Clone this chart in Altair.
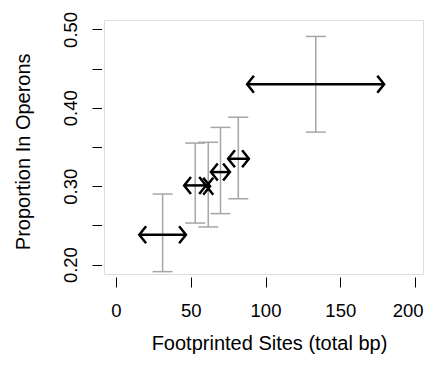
import altair as alt
import pandas as pd

# Data
x_mid = [31.2, 53.0, 61.7, 69.9, 81.8, 133.6]
x_lo = [15.6, 45.6, 60.5, 63.5, 75.0, 87.7]
x_hi = [46.8, 60.2, 62.9, 76.2, 88.9, 179.3]
y_mid = [0.238, 0.301, 0.300, 0.318, 0.335, 0.430]
y_lo = [0.191, 0.253, 0.248, 0.265, 0.284, 0.369]
y_hi = [0.290, 0.355, 0.356, 0.375, 0.388, 0.491]

x_ticks = [0, 50, 100, 150, 200]
y_ticks = [0.20, 0.25, 0.30, 0.35, 0.40, 0.45, 0.50]

df = pd.DataFrame({"xm": x_mid, "xl": x_lo, "xh": x_hi,
                   "ym": y_mid, "yl": y_lo, "yh": y_hi})

FONT = "Liberation Sans"
LFS = 18.5
TFS = 20

xscale = alt.Scale(domain=[-8, 205.3], nice=False, zero=False)
yscale = alt.Scale(domain=[0.188, 0.512], nice=False, zero=False)

xaxis = alt.Axis(values=x_ticks, title="Footprinted Sites (total bp)", grid=False,
                 domain=False, tickSize=10, tickColor="black", tickWidth=1, offset=3,
                 labelFont=FONT, labelFontSize=LFS, labelColor="black",
                 labelFlush=10, labelFlushOffset=8,
                 labelBaseline="top", labelPadding=14.5, labelOverlap=False,
                 titleFont=FONT, titleFontSize=TFS, titleFontWeight="normal", titleColor="black",
                 titleBaseline="alphabetic", titleAlign="center", titleX=165, titleY=72)
yaxis = alt.Axis(values=y_ticks, title="Proportion In Operons", grid=False,
                 domain=False, tickSize=9.5, tickColor="black", tickWidth=1, offset=2.5,
                 labelFont=FONT, labelFontSize=LFS, labelColor="black", labelFlush=False,
                 labelAngle=-90, labelAlign="center", labelBaseline="alphabetic",
                 labelPadding=15.3, labelOverlap=False,
                 labelExpr="(round(datum.value*100) % 10 == 0) ? format(datum.value, '.2f') : ''",
                 titleFont=FONT, titleFontSize=TFS, titleFontWeight="normal", titleColor="black",
                 titleAngle=-90, titleBaseline="alphabetic", titleAlign="center",
                 titleX=-72.5, titleY=131.3)

GRAY = "#a6a6a6"

base = alt.Chart(df)

err = base.mark_rule(color=GRAY, strokeWidth=1.5).encode(
    x=alt.X("xm:Q", scale=xscale, axis=xaxis),
    y=alt.Y("yl:Q", scale=yscale, axis=yaxis),
    y2="yh:Q")

cap_path = "M-1,0L1,0"
cap_lo = base.mark_point(shape=cap_path, size=400, filled=False, color=GRAY,
                         strokeWidth=1.5, opacity=1).encode(
    x=alt.X("xm:Q", scale=xscale), y=alt.Y("yl:Q", scale=yscale))
cap_hi = base.mark_point(shape=cap_path, size=400, filled=False, color=GRAY,
                         strokeWidth=1.5, opacity=1).encode(
    x=alt.X("xm:Q", scale=xscale), y=alt.Y("yh:Q", scale=yscale))

shaft = base.mark_rule(color="black", strokeWidth=2.5).encode(
    x=alt.X("xl:Q", scale=xscale), x2="xh:Q", y=alt.Y("ym:Q", scale=yscale))

left_head = base.mark_point(shape="M0.8,-1L0,0L0.8,1", size=289, filled=False,
                            color="black", strokeWidth=2.5, opacity=1).encode(
    x=alt.X("xl:Q", scale=xscale), y=alt.Y("ym:Q", scale=yscale))
right_head = base.mark_point(shape="M-0.8,-1L0,0L-0.8,1", size=289, filled=False,
                             color="black", strokeWidth=2.5, opacity=1).encode(
    x=alt.X("xh:Q", scale=xscale), y=alt.Y("ym:Q", scale=yscale))

chart = alt.layer(err, cap_lo, cap_hi, shaft, left_head, right_head).properties(
    width=319, height=254,
    padding={"left": 96, "top": 12, "right": 1, "bottom": 80},
    autosize=alt.AutoSizeParams(type="none"),
).configure_view(stroke="#222222", strokeWidth=1.3).configure(background="white")

chart.save("out.html", embed_options={"renderer": "svg", "actions": False})
